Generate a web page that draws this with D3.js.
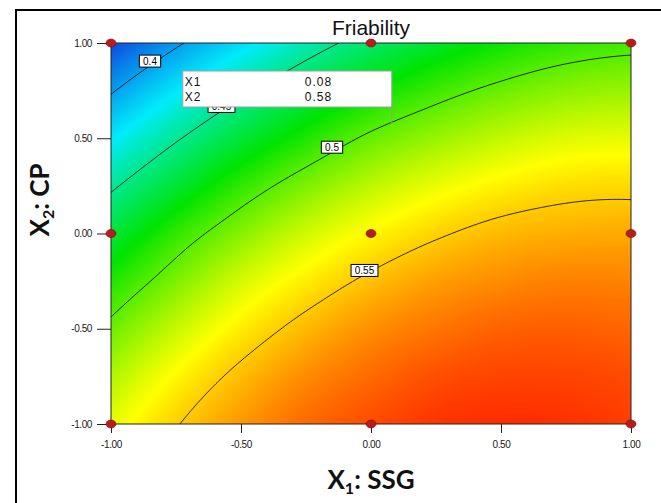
<!DOCTYPE html>
<html lang="en">
<head>
<meta charset="UTF-8">
<title>Friability</title>
<script src="https://d3js.org/d3.v7.min.js"></script>
<style>
  body { margin: 0; background: #fff; }
  svg { display: block; font-family: 'Liberation Sans', Arial, sans-serif; }
  .axis .tick text { font-size: 10px; fill: #1a1a1a; letter-spacing: -0.4px; }
  .axis .tick line { stroke: #222; }
  .axis-label { font-family: Lato, 'DejaVu Sans', sans-serif; font-weight: bold; font-size: 26px; fill: #111; }
  .clabel text { font-size: 10px; fill: #000; }
  .flag text { font-size: 12px; fill: #111; letter-spacing: 1px; }
</style>
</head>
<body>
<svg width="661" height="503"></svg>
<script>
// Friability response
// rows: X2 from 1.00 down to -1.00, columns: X1 from -1.00 to 1.00
const x1Levels = [-1, -0.75, -0.5, -0.25, 0, 0.25, 0.5, 0.75, 1];
const x2Levels = [1, 0.75, 0.5, 0.25, 0, -0.25, -0.5, -0.75, -1];
const friability = [
  [0.370, 0.397, 0.420, 0.441, 0.458, 0.472, 0.483, 0.491, 0.495],
  [0.398, 0.424, 0.446, 0.465, 0.481, 0.494, 0.504, 0.511, 0.514],
  [0.424, 0.448, 0.469, 0.487, 0.503, 0.514, 0.523, 0.529, 0.531],
  [0.447, 0.470, 0.491, 0.508, 0.522, 0.532, 0.540, 0.545, 0.546],
  [0.468, 0.491, 0.510, 0.526, 0.538, 0.548, 0.555, 0.558, 0.559],
  [0.487, 0.508, 0.527, 0.541, 0.553, 0.562, 0.567, 0.570, 0.569],
  [0.504, 0.524, 0.541, 0.555, 0.566, 0.573, 0.578, 0.579, 0.577],
  [0.519, 0.538, 0.554, 0.567, 0.576, 0.583, 0.586, 0.586, 0.584],
  [0.531, 0.549, 0.564, 0.576, 0.584, 0.590, 0.592, 0.591, 0.587]
];
const contourLevels = [0.4, 0.45, 0.5, 0.55];

// contour labels and where they sit (X1, X2)
const labelText = ["0.4", "0.45", "0.5", "0.55"];
const labelX1 = [-0.85, -0.575, -0.15, -0.025];
const labelX2 = [0.905, 0.667, 0.453, -0.194];

// design points
const pointX1 = [-1, 0, 1, -1, 0, 1, -1, 0, 1];
const pointX2 = [1, 1, 1, 0, 0, 0, -1, -1, -1];

// flag
const flagNames = ["X1", "X2"];
const flagValues = [0.08, 0.58];

const xTicks = [-1, -0.5, 0, 0.5, 1];
const yTicks = [-1, -0.5, 0, 0.5, 1];

const svg = d3.select("svg");
const plotL = 111, plotR = 631, plotT = 43, plotB = 424;

const x = d3.scaleLinear().domain([-1, 1]).range([plotL, plotR]);
const y = d3.scaleLinear().domain([-1, 1]).range([plotB, plotT]);

const color = d3.scaleLinear()
    .domain([0.370, 0.4255, 0.481, 0.5365, 0.592])
    .range(["rgb(12,72,225)", "rgb(0,235,250)", "rgb(0,228,0)", "rgb(255,255,0)", "rgb(255,45,0)"])
    .clamp(true);

// smooth lookup between the read grid values (cubic, edge rows extended)
const n = x1Levels.length, m = x2Levels.length;
const gi = d3.scaleLinear().domain([-1, 1]).range([0, n - 1]).clamp(true);
const gj = d3.scaleLinear().domain([1, -1]).range([0, m - 1]).clamp(true);
function cell(i, j) {
    if (i < 0) return 3 * cell(0, j) - 3 * cell(1, j) + cell(2, j);
    if (i > n - 1) return 3 * cell(n - 1, j) - 3 * cell(n - 2, j) + cell(n - 3, j);
    if (j < 0) return 3 * cell(i, 0) - 3 * cell(i, 1) + cell(i, 2);
    if (j > m - 1) return 3 * cell(i, m - 1) - 3 * cell(i, m - 2) + cell(i, m - 3);
    return friability[j][i];
}
function cubic(p0, p1, p2, p3, t) {
    return p1 + 0.5 * t * (p2 - p0 + t * (2 * p0 - 5 * p1 + 4 * p2 - p3 + t * (3 * (p1 - p2) + p3 - p0)));
}
function valueAt(a, b) {
    const u = gi(a), v = gj(b);
    const i = Math.min(Math.floor(u), n - 2), j = Math.min(Math.floor(v), m - 2);
    const fu = u - i, fv = v - j;
    const rows = [-1, 0, 1, 2].map(dj =>
        cubic(cell(i - 1, j + dj), cell(i, j + dj), cell(i + 1, j + dj), cell(i + 2, j + dj), fu));
    return cubic(rows[0], rows[1], rows[2], rows[3], fv);
}

// outer frame
svg.append("rect")
    .attr("x", 16).attr("y", 10)
    .attr("width", 700).attr("height", 600)
    .attr("fill", "none").attr("stroke", "#000").attr("stroke-width", 2);

// colour field
const W = plotR - plotL, H = plotB - plotT;
const canvas = document.createElement("canvas");
canvas.width = W; canvas.height = H;
const ctx = canvas.getContext("2d");
const img = ctx.createImageData(W, H);
for (let py = 0; py < H; py++) {
    for (let px = 0; px < W; px++) {
        const c = d3.rgb(color(valueAt(x.invert(plotL + px + 0.5), y.invert(plotT + py + 0.5))));
        const k = (py * W + px) * 4;
        img.data[k] = c.r; img.data[k + 1] = c.g; img.data[k + 2] = c.b; img.data[k + 3] = 255;
    }
}
ctx.putImageData(img, 0, 0);
svg.append("image")
    .attr("x", plotL).attr("y", plotT)
    .attr("width", W).attr("height", H)
    .attr("href", canvas.toDataURL());

svg.append("clipPath").attr("id", "plot-clip")
    .append("rect").attr("x", plotL).attr("y", plotT).attr("width", W).attr("height", H);

// contours
const N = 261, M = 191;
const fine = new Array(N * M);
for (let j = 0; j < M; j++) {
    for (let i = 0; i < N; i++) {
        fine[j * N + i] = valueAt(-1 + 2 * i / (N - 1), 1 - 2 * j / (M - 1));
    }
}
const contours = d3.contours().size([N, M]).thresholds(contourLevels)(fine);
const proj = d3.geoTransform({
    point(cx, cy) {
        this.stream.point(x(-1 + 2 * (cx - 0.5) / (N - 1)), y(1 - 2 * (cy - 0.5) / (M - 1)));
    }
});
svg.append("g")
    .attr("clip-path", "url(#plot-clip)")
    .selectAll("path")
    .data(contours)
    .join("path")
    .attr("d", d3.geoPath(proj))
    .attr("fill", "none")
    .attr("stroke", "#1a1a1a")
    .attr("stroke-width", 0.9);

// contour labels
const labels = svg.append("g").attr("class", "clabel")
    .selectAll("g")
    .data(labelText)
    .join("g")
    .attr("transform", (d, i) => `translate(${x(labelX1[i])},${y(labelX2[i])})`);
labels.append("text")
    .attr("text-anchor", "middle")
    .attr("dy", "0.36em")
    .text(d => d);
labels.each(function () {
    const g = d3.select(this);
    const bb = g.select("text").node().getBBox();
    g.insert("rect", "text")
        .attr("x", -bb.width / 2 - 3.5).attr("y", -6)
        .attr("width", bb.width + 7).attr("height", 12)
        .attr("fill", "#fff").attr("stroke", "#000").attr("stroke-width", 1);
});

// plot border
svg.append("rect")
    .attr("x", plotL).attr("y", plotT).attr("width", W).attr("height", H)
    .attr("fill", "none").attr("stroke", "#222").attr("stroke-width", 1);

// axes
svg.append("g")
    .attr("class", "axis")
    .attr("transform", `translate(0,${plotB})`)
    .call(d3.axisBottom(x).tickValues(xTicks).tickFormat(d => d.toFixed(2)).tickSize(9).tickPadding(8))
    .call(g => g.select(".domain").remove());

svg.append("g")
    .attr("class", "axis")
    .attr("transform", `translate(${plotL},0)`)
    .call(d3.axisLeft(y).tickValues(yTicks).tickFormat(d => d.toFixed(2)).tickSize(14).tickPadding(5))
    .call(g => g.select(".domain").remove());

// flag box pointing at (X1, X2)
const fx = x(flagValues[0]), fy = y(flagValues[1]);
const flag = svg.append("g").attr("class", "flag");
flag.append("line")
    .attr("x1", fx).attr("x2", fx).attr("y1", fy - 16).attr("y2", fy)
    .attr("stroke", "#9a9a9a").attr("stroke-width", 1);
flag.append("rect")
    .attr("x", fx - 209).attr("y", fy - 52)
    .attr("width", 209).attr("height", 36)
    .attr("fill", "#fff").attr("stroke", "#a0a0a0").attr("stroke-width", 1);
flagNames.forEach((name, i) => {
    flag.append("text").attr("x", fx - 207).attr("y", fy - 37 + i * 15).text(name);
    flag.append("text").attr("x", fx - 87).attr("y", fy - 37 + i * 15).text(flagValues[i].toFixed(2));
});

// design points
svg.append("g")
    .selectAll("ellipse")
    .data(pointX1)
    .join("ellipse")
    .attr("cx", d => x(d))
    .attr("cy", (d, i) => y(pointX2[i]))
    .attr("rx", 5).attr("ry", 4)
    .attr("fill", "#b81c1c")
    .attr("stroke", "#7a0c0c").attr("stroke-width", 0.6);

// title and axis labels
svg.append("text")
    .attr("x", 371).attr("y", 35)
    .attr("text-anchor", "middle")
    .attr("font-size", 21)
    .attr("fill", "#111")
    .text("Friability");

const xl = svg.append("text")
    .attr("class", "axis-label")
    .attr("x", 371).attr("y", 489)
    .attr("text-anchor", "middle");
xl.append("tspan").text("X");
xl.append("tspan").attr("font-size", 16).attr("dy", 5).text("1");
xl.append("tspan").attr("dy", -5).text(": SSG");

const yl = svg.append("text")
    .attr("class", "axis-label")
    .attr("transform", "translate(49,200) rotate(-90)")
    .attr("text-anchor", "middle");
yl.append("tspan").text("X");
yl.append("tspan").attr("font-size", 16).attr("dy", 5).text("2");
yl.append("tspan").attr("dy", -5).text(": CP");
</script>
</body>
</html>
